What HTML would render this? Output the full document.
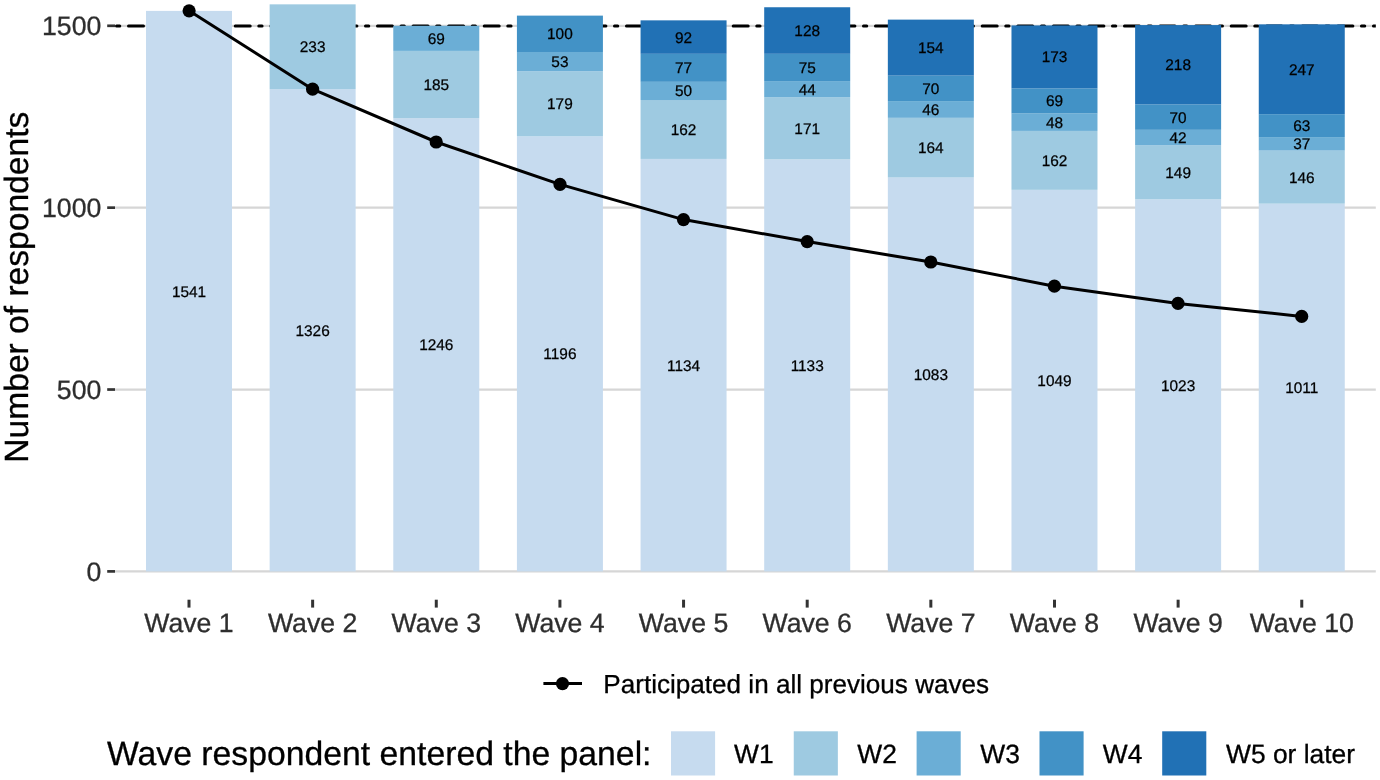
<!DOCTYPE html>
<html lang="en"><head><meta charset="utf-8"><title>Panel respondents by wave</title>
<style>html,body{margin:0;padding:0;background:#fff}svg{display:block}</style></head>
<body>
<svg width="1380" height="780" viewBox="0 0 1380 780" font-family="'Liberation Sans', sans-serif" text-rendering="geometricPrecision">
<rect width="1380" height="780" fill="#fff"/>
<line x1="115.0" x2="1375.8" y1="571.40" y2="571.40" stroke="#d6d6d6" stroke-width="2.3"/>
<line x1="115.0" x2="1375.8" y1="389.53" y2="389.53" stroke="#d6d6d6" stroke-width="2.3"/>
<line x1="115.0" x2="1375.8" y1="207.67" y2="207.67" stroke="#d6d6d6" stroke-width="2.3"/>
<line x1="115.0" x2="1375.8" y1="25.80" y2="25.80" stroke="#d6d6d6" stroke-width="2.3"/>
<clipPath id="pc"><rect x="115.0" y="0" width="1260.8" height="600"/></clipPath>
<line clip-path="url(#pc)" x1="116.5" x2="1385.8" y1="25.90" y2="25.90" stroke="#000" stroke-width="3" stroke-linecap="round" stroke-dasharray="3.3 8.7 15 8.57"/>
<rect x="146.00" y="10.89" width="86.0" height="560.51" fill="#c6dbef"/>
<rect x="269.64" y="89.09" width="86.0" height="482.31" fill="#c6dbef"/>
<rect x="269.64" y="4.34" width="86.0" height="84.75" fill="#9ecae1"/>
<rect x="393.28" y="118.19" width="86.0" height="453.21" fill="#c6dbef"/>
<rect x="393.28" y="50.90" width="86.0" height="67.29" fill="#9ecae1"/>
<rect x="393.28" y="25.80" width="86.0" height="25.10" fill="#6baed6"/>
<rect x="516.92" y="136.38" width="86.0" height="435.02" fill="#c6dbef"/>
<rect x="516.92" y="71.27" width="86.0" height="65.11" fill="#9ecae1"/>
<rect x="516.92" y="51.99" width="86.0" height="19.28" fill="#6baed6"/>
<rect x="516.92" y="15.62" width="86.0" height="36.37" fill="#4292c6"/>
<rect x="640.56" y="158.93" width="86.0" height="412.47" fill="#c6dbef"/>
<rect x="640.56" y="100.01" width="86.0" height="58.92" fill="#9ecae1"/>
<rect x="640.56" y="81.82" width="86.0" height="18.19" fill="#6baed6"/>
<rect x="640.56" y="53.81" width="86.0" height="28.01" fill="#4292c6"/>
<rect x="640.56" y="20.35" width="86.0" height="33.46" fill="#2171b5"/>
<rect x="764.20" y="159.29" width="86.0" height="412.11" fill="#c6dbef"/>
<rect x="764.20" y="97.10" width="86.0" height="62.20" fill="#9ecae1"/>
<rect x="764.20" y="81.09" width="86.0" height="16.00" fill="#6baed6"/>
<rect x="764.20" y="53.81" width="86.0" height="27.28" fill="#4292c6"/>
<rect x="764.20" y="7.25" width="86.0" height="46.56" fill="#2171b5"/>
<rect x="887.84" y="177.48" width="86.0" height="393.92" fill="#c6dbef"/>
<rect x="887.84" y="117.83" width="86.0" height="59.65" fill="#9ecae1"/>
<rect x="887.84" y="101.10" width="86.0" height="16.73" fill="#6baed6"/>
<rect x="887.84" y="75.64" width="86.0" height="25.46" fill="#4292c6"/>
<rect x="887.84" y="19.62" width="86.0" height="56.01" fill="#2171b5"/>
<rect x="1011.48" y="189.85" width="86.0" height="381.55" fill="#c6dbef"/>
<rect x="1011.48" y="130.92" width="86.0" height="58.92" fill="#9ecae1"/>
<rect x="1011.48" y="113.46" width="86.0" height="17.46" fill="#6baed6"/>
<rect x="1011.48" y="88.37" width="86.0" height="25.10" fill="#4292c6"/>
<rect x="1011.48" y="25.44" width="86.0" height="62.93" fill="#2171b5"/>
<rect x="1135.12" y="199.30" width="86.0" height="372.10" fill="#c6dbef"/>
<rect x="1135.12" y="145.11" width="86.0" height="54.20" fill="#9ecae1"/>
<rect x="1135.12" y="129.83" width="86.0" height="15.28" fill="#6baed6"/>
<rect x="1135.12" y="104.37" width="86.0" height="25.46" fill="#4292c6"/>
<rect x="1135.12" y="25.08" width="86.0" height="79.29" fill="#2171b5"/>
<rect x="1258.76" y="203.67" width="86.0" height="367.73" fill="#c6dbef"/>
<rect x="1258.76" y="150.56" width="86.0" height="53.10" fill="#9ecae1"/>
<rect x="1258.76" y="137.11" width="86.0" height="13.46" fill="#6baed6"/>
<rect x="1258.76" y="114.19" width="86.0" height="22.91" fill="#4292c6"/>
<rect x="1258.76" y="24.35" width="86.0" height="89.84" fill="#2171b5"/>
<g font-size="15.4" fill="#000" stroke="#000" stroke-width="0.25" text-anchor="middle">
<text x="189.00" y="296.65">1541</text>
<text x="312.64" y="335.75">1326</text>
<text x="312.64" y="52.22">233</text>
<text x="436.28" y="350.30">1246</text>
<text x="436.28" y="90.05">185</text>
<text x="436.28" y="43.85">69</text>
<text x="559.92" y="359.39">1196</text>
<text x="559.92" y="109.33">179</text>
<text x="559.92" y="67.13">53</text>
<text x="559.92" y="39.31">100</text>
<text x="683.56" y="370.67">1134</text>
<text x="683.56" y="134.97">162</text>
<text x="683.56" y="96.41">50</text>
<text x="683.56" y="73.32">77</text>
<text x="683.56" y="42.58">92</text>
<text x="807.20" y="370.85">1133</text>
<text x="807.20" y="133.69">171</text>
<text x="807.20" y="94.59">44</text>
<text x="807.20" y="72.95">75</text>
<text x="807.20" y="36.03">128</text>
<text x="930.84" y="379.94">1083</text>
<text x="930.84" y="153.15">164</text>
<text x="930.84" y="114.96">46</text>
<text x="930.84" y="93.87">70</text>
<text x="930.84" y="53.13">154</text>
<text x="1054.48" y="386.12">1049</text>
<text x="1054.48" y="165.89">162</text>
<text x="1054.48" y="127.69">48</text>
<text x="1054.48" y="106.42">69</text>
<text x="1054.48" y="62.40">173</text>
<text x="1178.12" y="390.85">1023</text>
<text x="1178.12" y="177.71">149</text>
<text x="1178.12" y="142.97">42</text>
<text x="1178.12" y="122.60">70</text>
<text x="1178.12" y="70.22">218</text>
<text x="1301.76" y="393.03">1011</text>
<text x="1301.76" y="182.62">146</text>
<text x="1301.76" y="149.34">37</text>
<text x="1301.76" y="131.15">63</text>
<text x="1301.76" y="74.77">247</text>
</g>
<polyline fill="none" stroke="#000" stroke-width="3" stroke-linejoin="round" points="189.1,10.8 312.6,89.2 436.2,142.0 560.0,184.4 683.5,219.6 807.2,241.6 930.8,262.0 1054.4,286.2 1178.0,303.4 1301.7,316.4"/>
<circle cx="189.1" cy="10.8" r="6.6" fill="#000"/>
<circle cx="312.6" cy="89.2" r="6.6" fill="#000"/>
<circle cx="436.2" cy="142.0" r="6.6" fill="#000"/>
<circle cx="560.0" cy="184.4" r="6.6" fill="#000"/>
<circle cx="683.5" cy="219.6" r="6.6" fill="#000"/>
<circle cx="807.2" cy="241.6" r="6.6" fill="#000"/>
<circle cx="930.8" cy="262.0" r="6.6" fill="#000"/>
<circle cx="1054.4" cy="286.2" r="6.6" fill="#000"/>
<circle cx="1178.0" cy="303.4" r="6.6" fill="#000"/>
<circle cx="1301.7" cy="316.4" r="6.6" fill="#000"/>
<g font-size="26.67" fill="#2e2e2e" stroke="#2e2e2e" stroke-width="0.3" text-anchor="end">
<line x1="107.2" x2="115.0" y1="571.40" y2="571.40" stroke="#333" stroke-width="2.7" />
<text x="101.3" y="581.00">0</text>
<line x1="107.2" x2="115.0" y1="389.53" y2="389.53" stroke="#333" stroke-width="2.7" />
<text x="101.3" y="399.13">500</text>
<line x1="107.2" x2="115.0" y1="207.67" y2="207.67" stroke="#333" stroke-width="2.7" />
<text x="101.3" y="217.27">1000</text>
<line x1="107.2" x2="115.0" y1="25.80" y2="25.80" stroke="#333" stroke-width="2.7" />
<text x="101.3" y="35.40">1500</text>
</g>
<g font-size="26.67" fill="#2e2e2e" stroke="#2e2e2e" stroke-width="0.3" text-anchor="middle">
<line x1="189.00" x2="189.00" y1="599.7" y2="607.6" stroke="#333" stroke-width="3"/>
<text x="189.00" y="632">Wave 1</text>
<line x1="312.64" x2="312.64" y1="599.7" y2="607.6" stroke="#333" stroke-width="3"/>
<text x="312.64" y="632">Wave 2</text>
<line x1="436.28" x2="436.28" y1="599.7" y2="607.6" stroke="#333" stroke-width="3"/>
<text x="436.28" y="632">Wave 3</text>
<line x1="559.92" x2="559.92" y1="599.7" y2="607.6" stroke="#333" stroke-width="3"/>
<text x="559.92" y="632">Wave 4</text>
<line x1="683.56" x2="683.56" y1="599.7" y2="607.6" stroke="#333" stroke-width="3"/>
<text x="683.56" y="632">Wave 5</text>
<line x1="807.20" x2="807.20" y1="599.7" y2="607.6" stroke="#333" stroke-width="3"/>
<text x="807.20" y="632">Wave 6</text>
<line x1="930.84" x2="930.84" y1="599.7" y2="607.6" stroke="#333" stroke-width="3"/>
<text x="930.84" y="632">Wave 7</text>
<line x1="1054.48" x2="1054.48" y1="599.7" y2="607.6" stroke="#333" stroke-width="3"/>
<text x="1054.48" y="632">Wave 8</text>
<line x1="1178.12" x2="1178.12" y1="599.7" y2="607.6" stroke="#333" stroke-width="3"/>
<text x="1178.12" y="632">Wave 9</text>
<line x1="1301.76" x2="1301.76" y1="599.7" y2="607.6" stroke="#333" stroke-width="3"/>
<text x="1301.76" y="632">Wave 10</text>
</g>
<text transform="translate(28.4,287.2) rotate(-90)" font-size="33.6" text-anchor="middle" fill="#000" stroke="#000" stroke-width="0.3">Number of respondents</text>
<line x1="543.4" x2="582" y1="683.6" y2="683.6" stroke="#000" stroke-width="3"/>
<circle cx="562.5" cy="683.6" r="6.6" fill="#000"/>
<text x="603.3" y="693.2" font-size="26.1" fill="#000" stroke="#000" stroke-width="0.3">Participated in all previous waves</text>
<text x="107" y="765" font-size="33.74" fill="#000" stroke="#000" stroke-width="0.3">Wave respondent entered the panel:</text>
<rect x="671" y="731.3" width="44.1" height="44.2" fill="#c6dbef"/>
<text x="734.0" y="763.4" font-size="26.4" fill="#000" stroke="#000" stroke-width="0.3">W1</text>
<rect x="793.75" y="731.3" width="44.1" height="44.2" fill="#9ecae1"/>
<text x="857.3" y="763.4" font-size="26.4" fill="#000" stroke="#000" stroke-width="0.3">W2</text>
<rect x="916.6" y="731.3" width="44.1" height="44.2" fill="#6baed6"/>
<text x="980.3" y="763.4" font-size="26.4" fill="#000" stroke="#000" stroke-width="0.3">W3</text>
<rect x="1039.5" y="731.3" width="44.1" height="44.2" fill="#4292c6"/>
<text x="1102.8" y="763.4" font-size="26.4" fill="#000" stroke="#000" stroke-width="0.3">W4</text>
<rect x="1162.2" y="731.3" width="44.1" height="44.2" fill="#2171b5"/>
<text x="1226.0" y="763.4" font-size="26.4" fill="#000" stroke="#000" stroke-width="0.3">W5 or later</text>
</svg>
</body></html>
